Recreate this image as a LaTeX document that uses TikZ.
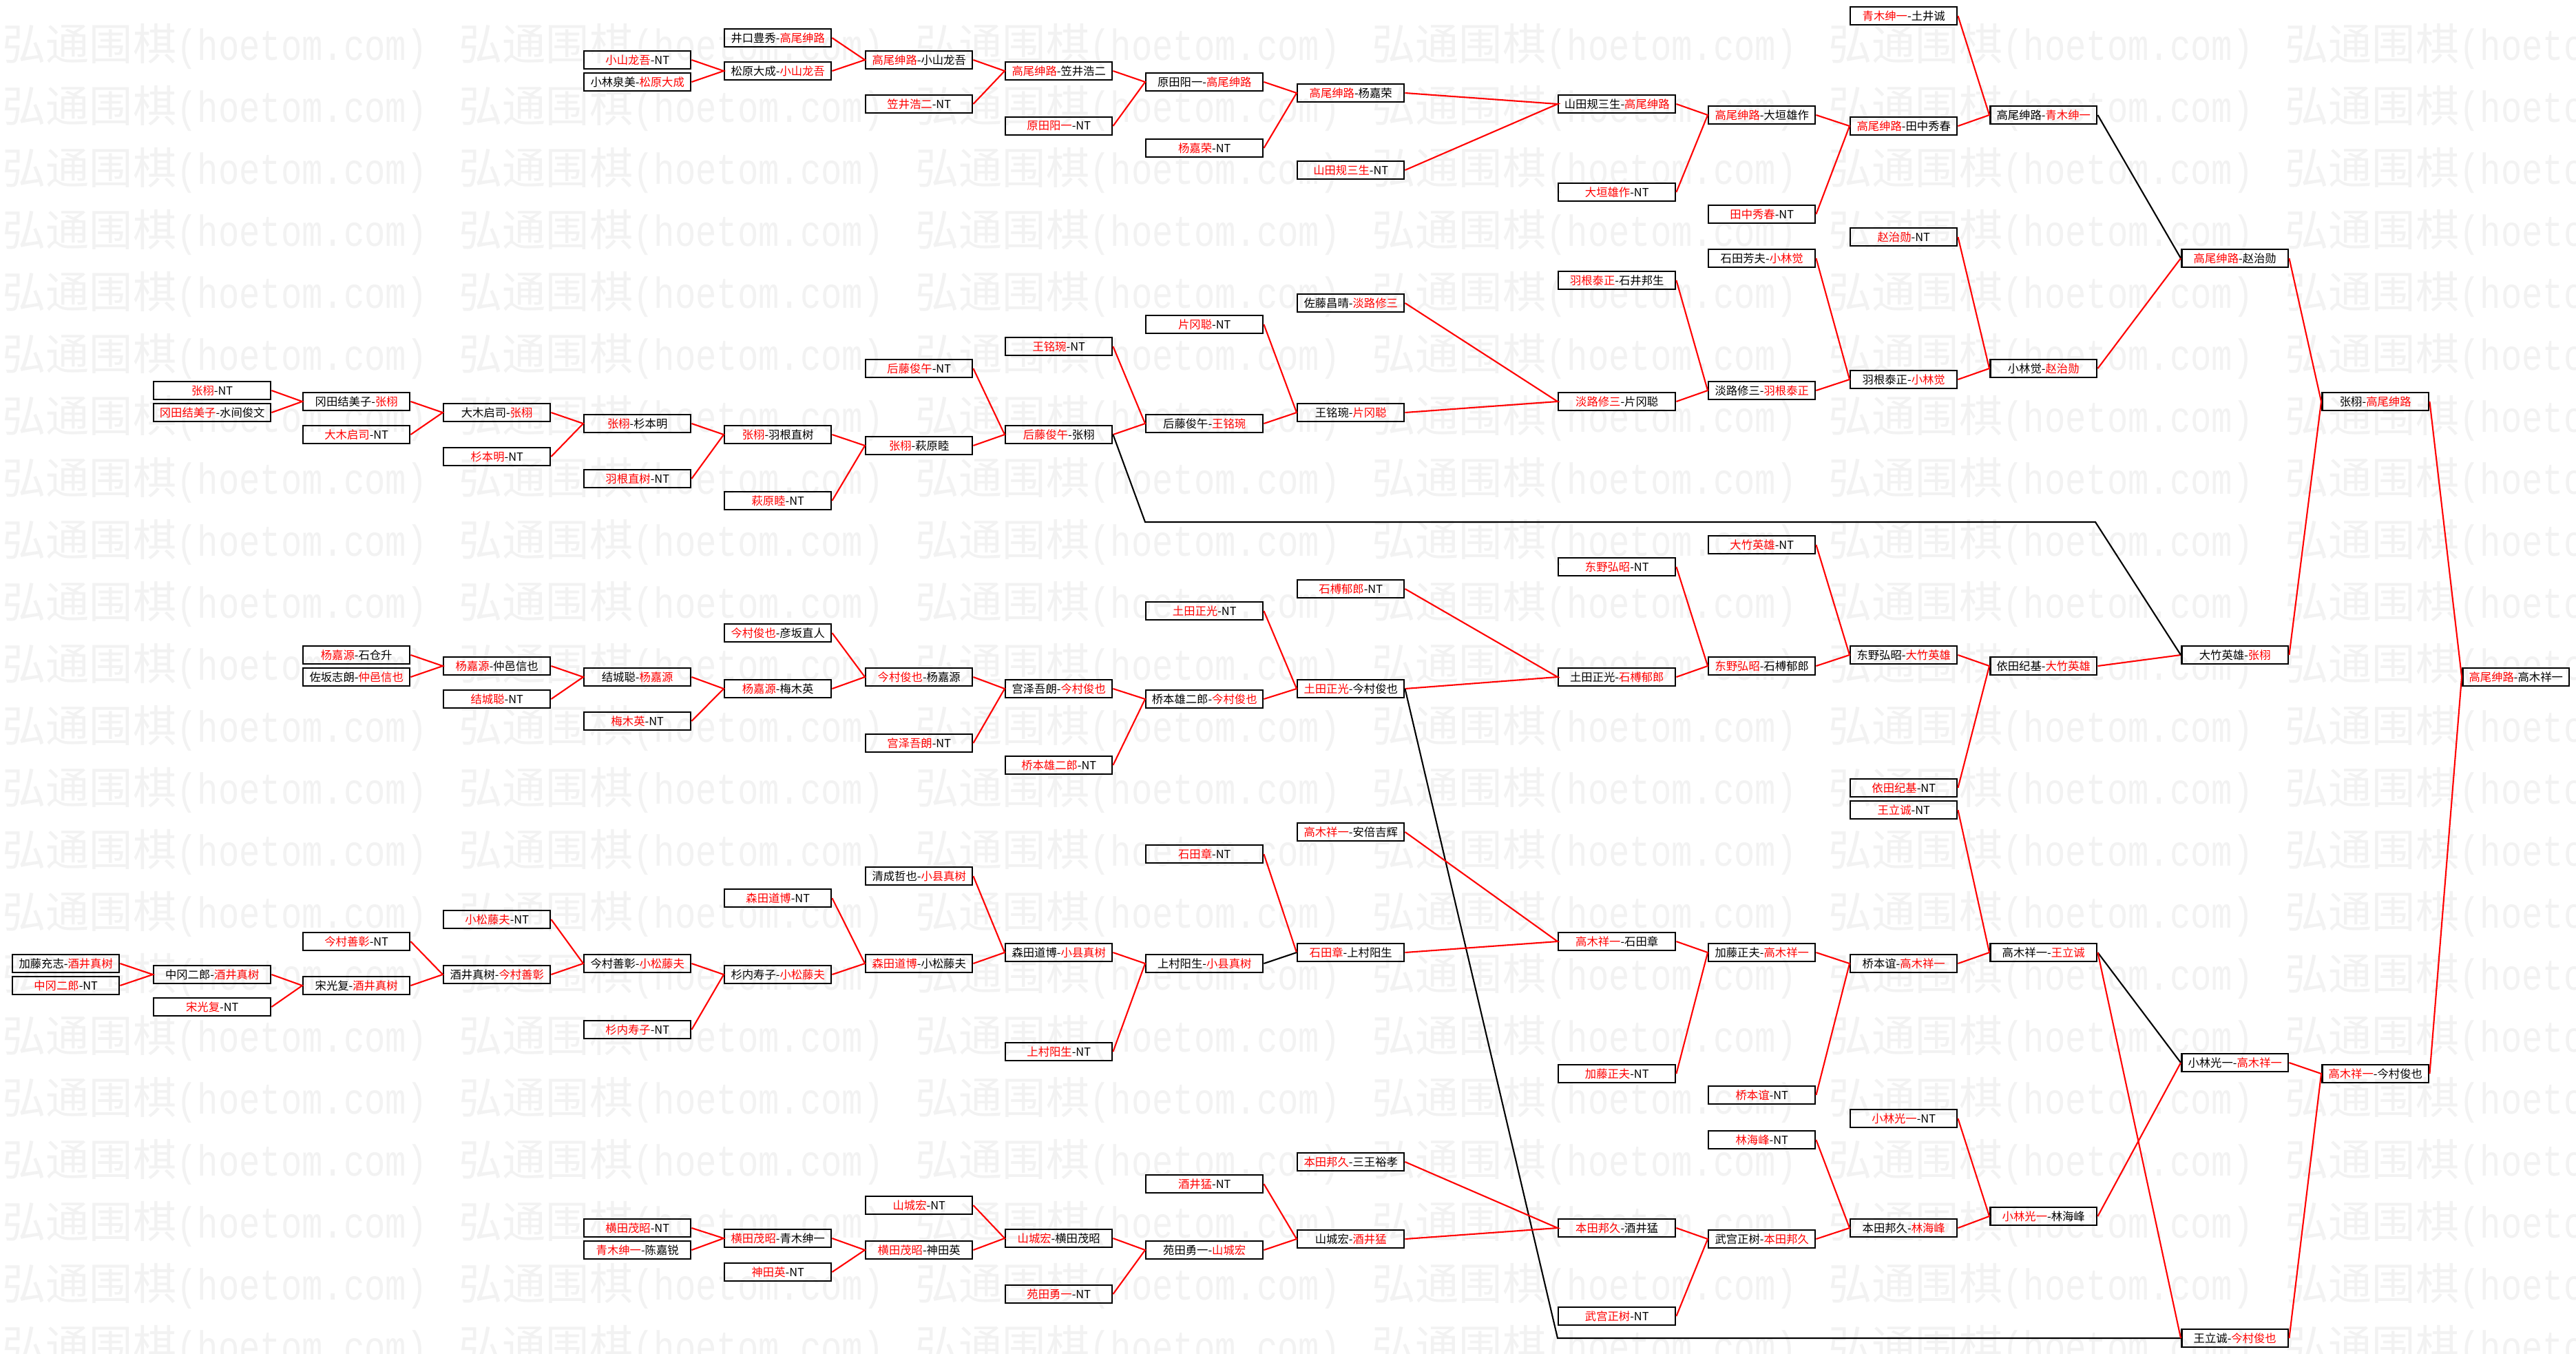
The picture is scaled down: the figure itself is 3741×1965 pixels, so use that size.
\documentclass[tikz,border=0pt]{standalone}
\usepackage{fontspec}
\setmainfont{Noto Sans CJK SC}
\newfontfamily\wmlatin{Liberation Mono}
\usepackage{xcolor}
\usepackage{tikz}
\definecolor{wincolor}{RGB}{255, 0, 0}
\definecolor{markgray}{RGB}{242, 242, 242}
\newcommand{\wn}[1]{\textcolor{wincolor}{#1}}

\begin{document}
\begin{tikzpicture}[
    x=0.02cm, y=-0.02cm,
    game/.style={rectangle, draw, line width=1.4pt, minimum width=3.1cm, minimum height=0.52cm, inner sep=0pt, anchor=west, font=\fontsize{9.3}{10}\selectfont},
    wide/.style={game, minimum width=3.4cm},
    win/.style={draw=wincolor, line width=1.2pt},
    lose/.style={draw=black, line width=1.2pt},
    wmtext/.style={anchor=west, inner sep=0pt, text=markgray, font=\fontsize{36}{40}\selectfont}
]
\useasboundingbox (0,0) rectangle (3741,1965);

% watermark
\begin{scope}
\clip (0,0) rectangle (3741,1965);
\foreach \r in {0,...,21}
  \foreach \c in {0,...,5}
    \node[wmtext] (wm\r-\c) at (3+663*\c, 67+90*\r) {弘通围棋\scalebox{0.8}[1]{\wmlatin (hoetom.com)}};
\end{scope}

% round 0-1
\node[game] (c0a) at (17,1399) {加藤充志-\wn{酒井真树}};
\node[game] (c0b) at (17,1431) {\wn{中冈二郎}-NT};
\node[wide] (c1a) at (222,567) {\wn{张栩}-NT};
\node[wide] (c1b) at (222,599) {\wn{冈田结美子}-水间俊文};
\node[wide] (c1c) at (222,1415) {中冈二郎-\wn{酒井真树}};
\node[wide] (c1d) at (222,1462) {\wn{宋光复}-NT};

% round 2
\node[game] (c2a) at (439,583) {冈田结美子-\wn{张栩}};
\node[game] (c2b) at (439,631) {\wn{大木启司}-NT};
\node[game] (c2c) at (439,951) {\wn{杨嘉源}-石仓升};
\node[game] (c2d) at (439,983) {佐坂志朗-\wn{仲邑信也}};
\node[game] (c2e) at (439,1367) {\wn{今村善彰}-NT};
\node[game] (c2f) at (439,1431) {宋光复-\wn{酒井真树}};

% round 3
\node[game] (c3a) at (643,599) {大木启司-\wn{张栩}};
\node[game] (c3b) at (643,663) {\wn{杉本明}-NT};
\node[game] (c3c) at (643,967) {\wn{杨嘉源}-仲邑信也};
\node[game] (c3d) at (643,1015) {\wn{结城聪}-NT};
\node[game] (c3e) at (643,1335) {\wn{小松藤夫}-NT};
\node[game] (c3f) at (643,1415) {酒井真树-\wn{今村善彰}};

% round 4
\node[game] (c4a) at (847,87) {\wn{小山龙吾}-NT};
\node[game] (c4b) at (847,119) {小林泉美-\wn{松原大成}};
\node[game] (c4c) at (847,615) {\wn{张栩}-杉本明};
\node[game] (c4d) at (847,695) {\wn{羽根直树}-NT};
\node[game] (c4e) at (847,983) {结城聪-\wn{杨嘉源}};
\node[game] (c4f) at (847,1047) {\wn{梅木英}-NT};
\node[game] (c4g) at (847,1399) {今村善彰-\wn{小松藤夫}};
\node[game] (c4h) at (847,1495) {\wn{杉内寿子}-NT};
\node[game] (c4i) at (847,1783) {\wn{横田茂昭}-NT};
\node[game] (c4j) at (847,1815) {\wn{青木绅一}-陈嘉锐};

% round 5
\node[game] (c5a) at (1051,55) {井口豊秀-\wn{高尾绅路}};
\node[game] (c5b) at (1051,103) {松原大成-\wn{小山龙吾}};
\node[game] (c5c) at (1051,631) {\wn{张栩}-羽根直树};
\node[game] (c5d) at (1051,727) {\wn{萩原睦}-NT};
\node[game] (c5e) at (1051,919) {\wn{今村俊也}-彦坂直人};
\node[game] (c5f) at (1051,1000) {\wn{杨嘉源}-梅木英};
\node[game] (c5g) at (1051,1304) {\wn{森田道博}-NT};
\node[game] (c5h) at (1051,1415) {杉内寿子-\wn{小松藤夫}};
\node[game] (c5i) at (1051,1798) {\wn{横田茂昭}-青木绅一};
\node[game] (c5j) at (1051,1847) {\wn{神田英}-NT};

% round 6
\node[game] (c6a) at (1256,87) {\wn{高尾绅路}-小山龙吾};
\node[game] (c6b) at (1256,151) {\wn{笠井浩二}-NT};
\node[game] (c6c) at (1256,535) {\wn{后藤俊午}-NT};
\node[game] (c6d) at (1256,647) {\wn{张栩}-萩原睦};
\node[game] (c6e) at (1256,983) {\wn{今村俊也}-杨嘉源};
\node[game] (c6f) at (1256,1079) {\wn{宫泽吾朗}-NT};
\node[game] (c6g) at (1256,1272) {清成哲也-\wn{小县真树}};
\node[game] (c6h) at (1256,1399) {\wn{森田道博}-小松藤夫};
\node[game] (c6i) at (1256,1750) {\wn{山城宏}-NT};
\node[game] (c6j) at (1256,1815) {\wn{横田茂昭}-神田英};

% round 7
\node[game] (c7a) at (1459,103) {\wn{高尾绅路}-笠井浩二};
\node[game] (c7b) at (1459,183) {\wn{原田阳一}-NT};
\node[game] (c7c) at (1459,503) {\wn{王铭琬}-NT};
\node[game] (c7d) at (1459,631) {\wn{后藤俊午}-张栩};
\node[game] (c7e) at (1459,1000) {宫泽吾朗-\wn{今村俊也}};
\node[game] (c7f) at (1459,1111) {\wn{桥本雄二郎}-NT};
\node[game] (c7g) at (1459,1383) {森田道博-\wn{小县真树}};
\node[game] (c7h) at (1459,1527) {\wn{上村阳生}-NT};
\node[game] (c7i) at (1459,1798) {\wn{山城宏}-横田茂昭};
\node[game] (c7j) at (1459,1879) {\wn{苑田勇一}-NT};

% round 8
\node[wide] (c8a) at (1663,119) {原田阳一-\wn{高尾绅路}};
\node[wide] (c8b) at (1663,215) {\wn{杨嘉荣}-NT};
\node[wide] (c8c) at (1663,471) {\wn{片冈聪}-NT};
\node[wide] (c8d) at (1663,615) {后藤俊午-\wn{王铭琬}};
\node[wide] (c8e) at (1663,887) {\wn{土田正光}-NT};
\node[wide] (c8f) at (1663,1015) {桥本雄二郎-\wn{今村俊也}};
\node[wide] (c8g) at (1663,1240) {\wn{石田章}-NT};
\node[wide] (c8h) at (1663,1399) {上村阳生-\wn{小县真树}};
\node[wide] (c8i) at (1663,1719) {\wn{酒井猛}-NT};
\node[wide] (c8j) at (1663,1815) {苑田勇一-\wn{山城宏}};

% round 9
\node[game] (c9a) at (1883,135) {\wn{高尾绅路}-杨嘉荣};
\node[game] (c9b) at (1883,247) {\wn{山田规三生}-NT};
\node[game] (c9c) at (1883,440) {佐藤昌晴-\wn{淡路修三}};
\node[game] (c9d) at (1883,599) {王铭琬-\wn{片冈聪}};
\node[game] (c9e) at (1883,855) {\wn{石榑郁郎}-NT};
\node[game] (c9f) at (1883,1000) {\wn{土田正光}-今村俊也};
\node[game] (c9g) at (1883,1208) {\wn{高木祥一}-安倍吉辉};
\node[game] (c9h) at (1883,1383) {\wn{石田章}-上村阳生};
\node[game] (c9i) at (1883,1687) {\wn{本田邦久}-三王裕孝};
\node[game] (c9j) at (1883,1799) {山城宏-\wn{酒井猛}};

% round 10
\node[wide] (c10a) at (2262,151) {山田规三生-\wn{高尾绅路}};
\node[wide] (c10b) at (2262,279) {\wn{大垣雄作}-NT};
\node[wide] (c10c) at (2262,407) {\wn{羽根泰正}-石井邦生};
\node[wide] (c10d) at (2262,583) {\wn{淡路修三}-片冈聪};
\node[wide] (c10e) at (2262,823) {\wn{东野弘昭}-NT};
\node[wide] (c10f) at (2262,983) {土田正光-\wn{石榑郁郎}};
\node[wide] (c10g) at (2262,1367) {\wn{高木祥一}-石田章};
\node[wide] (c10h) at (2262,1559) {\wn{加藤正夫}-NT};
\node[wide] (c10i) at (2262,1783) {\wn{本田邦久}-酒井猛};
\node[wide] (c10j) at (2262,1911) {\wn{武宫正树}-NT};

% round 11
\node[game] (c11a) at (2480,167) {\wn{高尾绅路}-大垣雄作};
\node[game] (c11b) at (2480,311) {\wn{田中秀春}-NT};
\node[game] (c11c) at (2480,375) {石田芳夫-\wn{小林觉}};
\node[game] (c11d) at (2480,567) {淡路修三-\wn{羽根泰正}};
\node[game] (c11e) at (2480,791) {\wn{大竹英雄}-NT};
\node[game] (c11f) at (2480,967) {\wn{东野弘昭}-石榑郁郎};
\node[game] (c11g) at (2480,1383) {加藤正夫-\wn{高木祥一}};
\node[game] (c11h) at (2480,1590) {\wn{桥本谊}-NT};
\node[game] (c11i) at (2480,1655) {\wn{林海峰}-NT};
\node[game] (c11j) at (2480,1799) {武宫正树-\wn{本田邦久}};

% round 12
\node[game] (c12a) at (2686,23) {\wn{青木绅一}-土井诚};
\node[game] (c12b) at (2686,183) {\wn{高尾绅路}-田中秀春};
\node[game] (c12c) at (2686,344) {\wn{赵治勋}-NT};
\node[game] (c12d) at (2686,551) {羽根泰正-\wn{小林觉}};
\node[game] (c12e) at (2686,951) {东野弘昭-\wn{大竹英雄}};
\node[game] (c12f) at (2686,1144) {\wn{依田纪基}-NT};
\node[game] (c12g) at (2686,1176) {\wn{王立诚}-NT};
\node[game] (c12h) at (2686,1399) {桥本谊-\wn{高木祥一}};
\node[game] (c12i) at (2686,1624) {\wn{小林光一}-NT};
\node[game] (c12j) at (2686,1783) {本田邦久-\wn{林海峰}};

% rounds 13-16
\node[game] (c13a) at (2889,167) {高尾绅路-\wn{青木绅一}};
\node[game] (c13b) at (2889,535) {小林觉-\wn{赵治勋}};
\node[game] (c13c) at (2889,967) {依田纪基-\wn{大竹英雄}};
\node[game] (c13d) at (2889,1383) {高木祥一-\wn{王立诚}};
\node[game] (c13e) at (2889,1766) {\wn{小林光一}-林海峰};
\node[game] (c14a) at (3167,375) {\wn{高尾绅路}-赵治勋};
\node[game] (c14b) at (3167,951) {大竹英雄-\wn{张栩}};
\node[game] (c14c) at (3167,1543) {小林光一-\wn{高木祥一}};
\node[game] (c14d) at (3167,1943) {王立诚-\wn{今村俊也}};
\node[game] (c15a) at (3371,583) {张栩-\wn{高尾绅路}};
\node[game] (c15b) at (3371,1559) {\wn{高木祥一}-今村俊也};
\node[game] (c16a) at (3575,983) {\wn{高尾绅路}-高木祥一};

% connectors, upper part
\draw[win] (c4a.east) -- (c5b.west) -- (c4b.east);
\draw[win] (c5a.east) -- (c6a.west) -- (c5b.east);
\draw[win] (c6a.east) -- (c7a.west) -- (c6b.east);
\draw[win] (c7a.east) -- (c8a.west) -- (c7b.east);
\draw[win] (c8a.east) -- (c9a.west) -- (c8b.east);
\draw[win] (c9a.east) -- (c10a.west) -- (c9b.east);
\draw[win] (c10a.east) -- (c11a.west) -- (c10b.east);
\draw[win] (c11a.east) -- (c12b.west) -- (c11b.east);
\draw[win] (c12a.east) -- (c13a.west) -- (c12b.east);
\draw[lose] (c13a.east) -- (c14a.west);
\draw[win] (c14a.west) -- (c13b.east);
\draw[win] (c14a.east) -- (c15a.west) -- (c14b.east);
\draw[win] (c15a.east) -- (c16a.west) -- (c15b.east);

\draw[win] (c1a.east) -- (c2a.west) -- (c1b.east);
\draw[win] (c2a.east) -- (c3a.west) -- (c2b.east);
\draw[win] (c3a.east) -- (c4c.west) -- (c3b.east);
\draw[win] (c4c.east) -- (c5c.west) -- (c4d.east);
\draw[win] (c5c.east) -- (c6d.west) -- (c5d.east);
\draw[win] (c6c.east) -- (c7d.west) -- (c6d.east);
\draw[win] (c7c.east) -- (c8d.west) -- (c7d.east);
\draw[win] (c8c.east) -- (c9d.west) -- (c8d.east);
\draw[win] (c9c.east) -- (c10d.west) -- (c9d.east);
\draw[win] (c10c.east) -- (c11d.west) -- (c10d.east);
\draw[win] (c11c.east) -- (c12d.west) -- (c11d.east);
\draw[win] (c12c.east) -- (c13b.west) -- (c12d.east);

% connectors, middle part
\draw[win] (c2c.east) -- (c3c.west) -- (c2d.east);
\draw[win] (c3c.east) -- (c4e.west) -- (c3d.east);
\draw[win] (c4e.east) -- (c5f.west) -- (c4f.east);
\draw[win] (c5e.east) -- (c6e.west) -- (c5f.east);
\draw[win] (c6e.east) -- (c7e.west) -- (c6f.east);
\draw[win] (c7e.east) -- (c8f.west) -- (c7f.east);
\draw[win] (c8e.east) -- (c9f.west) -- (c8f.east);
\draw[win] (c9e.east) -- (c10f.west) -- (c9f.east);
\draw[win] (c10e.east) -- (c11f.west) -- (c10f.east);
\draw[win] (c11e.east) -- (c12e.west) -- (c11f.east);
\draw[win] (c12e.east) -- (c13c.west) -- (c12f.east);
\draw[win] (c13c.east) -- (c14b.west);

\coordinate (bend1) at (1663,758);
\coordinate (bend2) at (3043,758);
\coordinate (bend3) at (2262,1943);
\draw[lose] (c7d.east) -- (bend1) -- (bend2) -- (c14b.west);
\draw[lose] (c9f.east) -- (bend3) -- (c14d.west);

% connectors, lower part
\draw[win] (c0a.east) -- (c1c.west) -- (c0b.east);
\draw[win] (c1c.east) -- (c2f.west) -- (c1d.east);
\draw[win] (c2e.east) -- (c3f.west) -- (c2f.east);
\draw[win] (c3e.east) -- (c4g.west) -- (c3f.east);
\draw[win] (c4g.east) -- (c5h.west) -- (c4h.east);
\draw[win] (c5g.east) -- (c6h.west) -- (c5h.east);
\draw[win] (c6g.east) -- (c7g.west) -- (c6h.east);
\draw[win] (c7g.east) -- (c8h.west) -- (c7h.east);
\draw[win] (c8g.east) -- (c9h.west);
\draw[lose] (c8h.east) -- (c9h.west);
\draw[win] (c9g.east) -- (c10g.west) -- (c9h.east);
\draw[win] (c10g.east) -- (c11g.west) -- (c10h.east);
\draw[win] (c11g.east) -- (c12h.west) -- (c11h.east);
\draw[win] (c12g.east) -- (c13d.west) -- (c12h.east);
\draw[lose] (c13d.east) -- (c14c.west);
\draw[win] (c13d.east) -- (c14d.west);
\draw[win] (c13e.east) -- (c14c.west);
\draw[win] (c14c.east) -- (c15b.west) -- (c14d.east);

\draw[win] (c4i.east) -- (c5i.west) -- (c4j.east);
\draw[win] (c5i.east) -- (c6j.west) -- (c5j.east);
\draw[win] (c6i.east) -- (c7i.west) -- (c6j.east);
\draw[win] (c7i.east) -- (c8j.west) -- (c7j.east);
\draw[win] (c8i.east) -- (c9j.west) -- (c8j.east);
\draw[win] (c9i.east) -- (c10i.west) -- (c9j.east);
\draw[win] (c10i.east) -- (c11j.west) -- (c10j.east);
\draw[win] (c11i.east) -- (c12j.west) -- (c11j.east);
\draw[win] (c12i.east) -- (c13e.west) -- (c12j.east);

\end{tikzpicture}
\end{document}
